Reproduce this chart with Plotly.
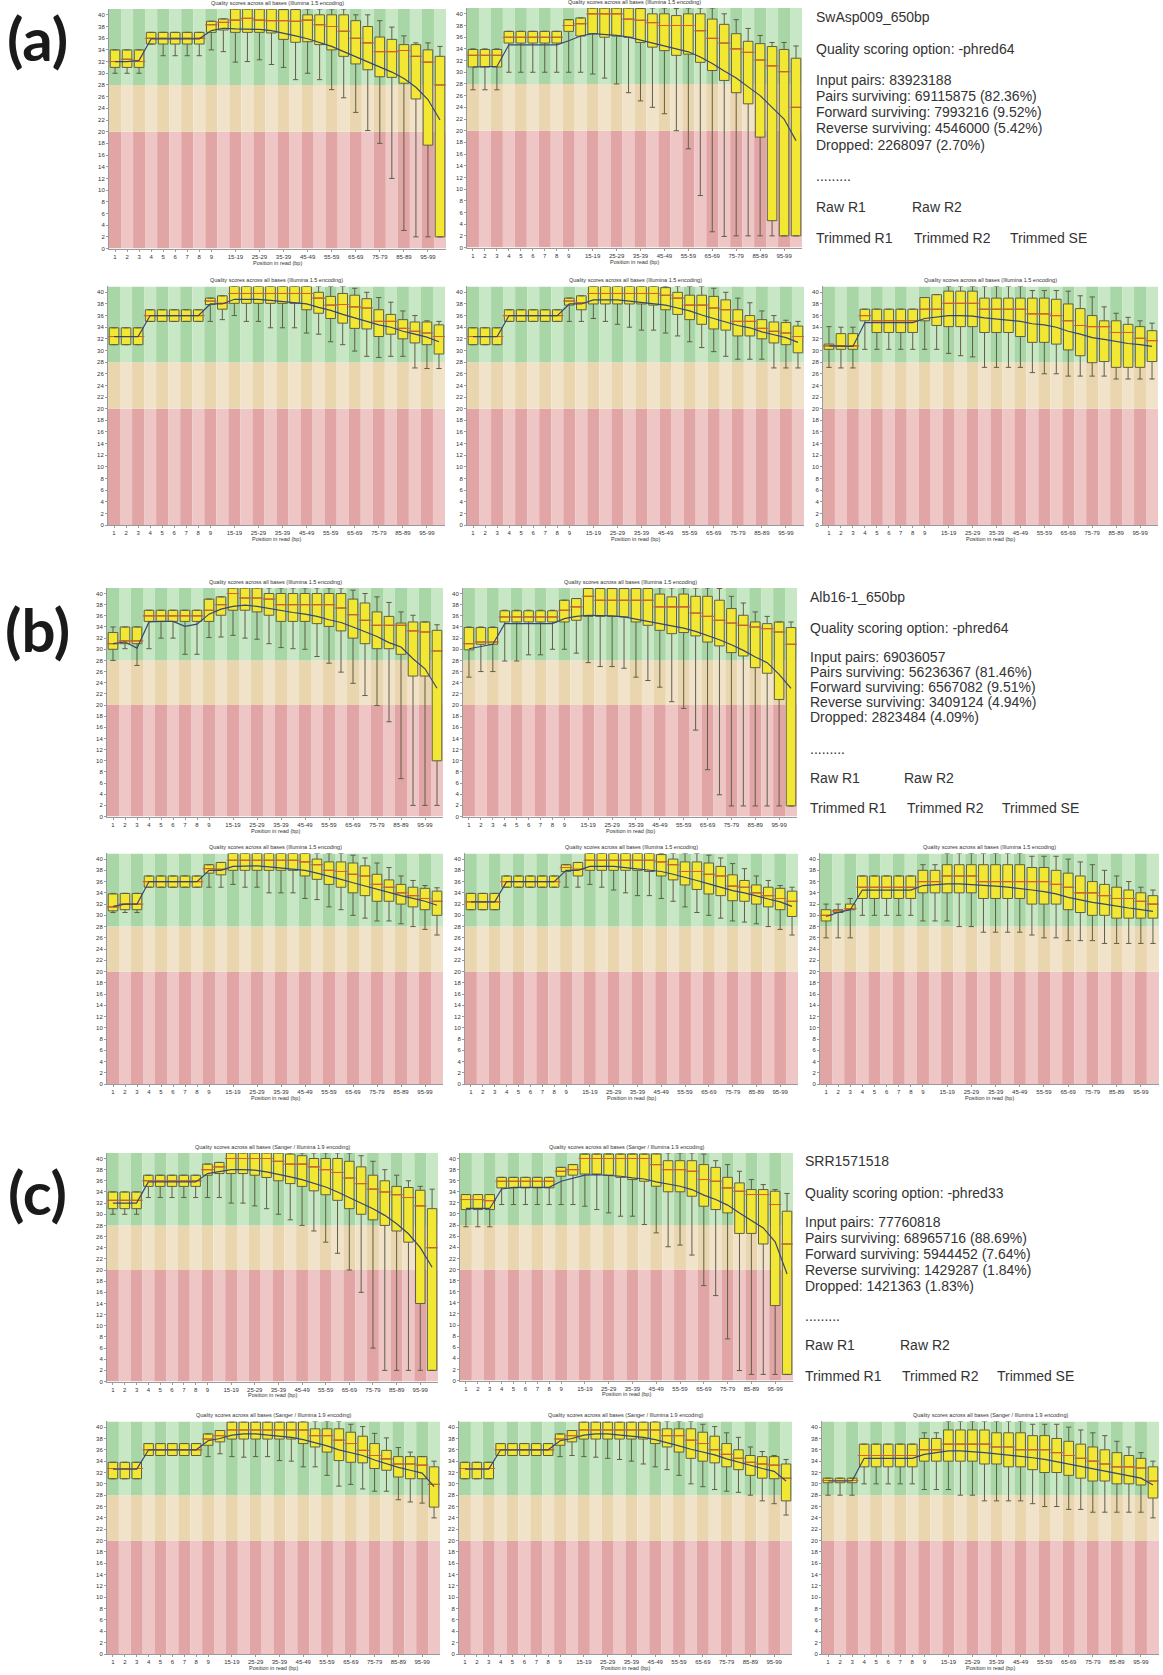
import plotly.graph_objects as go

W, H = 1163, 1675

CATEGORIES = ["1", "2", "3", "4", "5", "6", "7", "8", "9", "10-14", "15-19", "20-24", "25-29",
              "30-34", "35-39", "40-44", "45-49", "50-54", "55-59", "60-64", "65-69", "70-74",
              "75-79", "80-84", "85-89", "90-94", "95-99", "100-101"]
TICK_TEXT = ["1", "2", "3", "4", "5", "6", "7", "8", "9", "15-19", "25-29", "35-39", "45-49",
             "55-59", "65-69", "75-79", "85-89", "95-99"]
Y_TICKS = list(range(0, 41, 2))
BAND_EDGES = [0, 20, 28, 41]

TITLE_15 = "Quality scores across all bases (Illumina 1.5 encoding)"
TITLE_19 = "Quality scores across all bases (Sanger / Illumina 1.9 encoding)"
X_TITLE = "Position in read (bp)"

# ---------------- (a) ----------------
A1_LO = [30, 30, 30, 35, 33, 33, 33, 33, 34, 33.7, 31.9, 32, 32.3, 31.5, 31, 28.9, 30, 28.9, 27.2, 25.8, 23.3, 20.2, 18, 12, 3.1, 2, 2, 2]
A1_Q1 = [31, 31, 31, 35, 35, 35, 35, 35, 37, 37.4, 37, 37, 37, 36.9, 35.8, 35.3, 35.4, 34.9, 34, 32.9, 31.6, 30.6, 29.4, 29.3, 28.3, 25.6, 17.7, 2]
A1_MED = [32, 32.4, 32, 36, 36, 36, 36, 36, 38.3, 38.7, 39.1, 39.4, 39.1, 39, 39, 38.9, 39.1, 38.3, 38, 37.2, 36, 35.2, 33.7, 33.7, 33.9, 32.9, 31.9, 28]
A1_Q3 = [34, 34, 34, 37, 37, 37, 37, 37, 38.9, 39.3, 41, 41, 41, 41, 40.9, 40.9, 40, 40, 40, 40, 39, 38, 36.2, 35.8, 34.9, 34.9, 34, 32.9]
A1_HI = [34, 34, 34, 37, 37, 37, 37, 37, 38.9, 39.3, 41, 41, 41, 41, 40.9, 41, 41, 41, 41, 41, 40, 40, 39, 37.9, 36.4, 35.2, 35.2, 34.6]
A1_MEAN = [32, 32, 32.2, 35.9, 35.9, 35.9, 35.9, 35.9, 37.3, 37.7, 37.6, 37.6, 37.5, 37.3, 36.9, 36.4, 35.9, 35.3, 34.6, 33.7, 32.8, 31.9, 31, 30.2, 29.1, 27.6, 25.5, 22]

A2_LO = [27, 27, 27, 30, 30, 30, 30, 30, 30, 30, 29.7, 29, 28, 26.5, 25.1, 24, 22.9, 20, 16.9, 8.9, 2.7, 1.9, 2, 2, 2, 2, 2, 2]
A2_Q1 = [30.9, 30.9, 30.9, 35, 35, 35, 35, 35, 37, 36.2, 36.6, 36, 36.2, 36, 35.1, 34.3, 33.7, 32.9, 33.1, 31.7, 30.3, 28.6, 26.5, 24.6, 18.9, 4.6, 2, 2]
A2_MED = [32.9, 32.9, 32.9, 36, 36, 36, 36, 36, 38, 38.3, 40, 40, 40, 39.1, 38.9, 38.5, 38, 38, 38, 37.1, 35.8, 35, 34, 33.4, 32.1, 31.1, 30.1, 24]
A2_Q3 = [33.9, 33.9, 33.9, 37, 37, 37, 37, 37, 39, 39.3, 41, 41, 41, 41, 40.9, 40, 40, 39.7, 40, 40, 39.1, 38.2, 36.6, 35.3, 34.9, 34.4, 33.9, 32.4]
A2_HI = [34, 34, 34, 37, 37, 37, 37, 37, 39, 39.3, 41, 41, 41, 41, 41, 41, 41, 40.9, 41, 41, 41, 40, 39, 37.5, 36.3, 35.1, 35.1, 34.5]
A2_MEAN = [30.9, 30.9, 31, 34.7, 34.7, 34.7, 34.7, 34.7, 35.4, 36.2, 36.6, 36.5, 36.3, 36, 35.5, 35, 34.5, 34, 33.5, 32.6, 31.5, 30.2, 29, 27.5, 26, 24, 22, 18.3]

A3_LO = [31, 31, 31, 35, 35, 35, 35, 35, 35, 35.3, 36, 35, 35, 33.9, 33.9, 33.9, 33, 32.8, 31.5, 31, 29.9, 29, 28.8, 29, 29, 27, 26.9, 26.9]
A3_Q1 = [31, 31, 31, 35, 35, 35, 35, 35, 37.9, 37.1, 38.1, 38.1, 38.1, 38.1, 38.1, 38.1, 37, 36.4, 35.5, 34.7, 33.8, 33.7, 32.4, 32.8, 32, 31.3, 31, 29.4]
A3_MED = [32.4, 32.4, 32.4, 36, 36, 36, 36, 36, 38.5, 38.1, 39.8, 39.8, 39.8, 39.8, 39.8, 39.8, 39.8, 39, 37.8, 37.9, 37.5, 37.3, 35, 35, 33.8, 33.3, 33, 32.4]
A3_Q3 = [33.9, 33.9, 33.9, 37, 37, 37, 37, 37, 39, 39.4, 41, 41, 41, 41, 41, 41, 41, 40, 39.3, 39.8, 39.5, 38.9, 37, 36.2, 35.3, 34.9, 34.9, 34.4]
A3_HI = [33.9, 33.9, 33.9, 37, 37, 37, 37, 37, 39, 39.4, 41, 41, 41, 41, 41, 41, 41, 41, 41, 41, 40.7, 40, 39.1, 38.3, 36.8, 36, 35.1, 35]
A3_MEAN = [32.4, 32.4, 32.4, 36, 36, 36, 36, 36, 38, 38, 38.8, 38.8, 38.8, 38.6, 38.4, 38.3, 38, 37.4, 36.9, 36.2, 35.6, 35, 34.4, 34, 33.3, 32.8, 32.3, 31.5]

A4_LO = [31, 31, 31, 35, 35, 35, 35, 35, 35, 35, 35.5, 35, 34.5, 34, 33.5, 33.5, 33, 32.5, 31.5, 30.5, 29.8, 29, 28.5, 28.5, 28.5, 27, 27, 27]
A4_Q1 = [31, 31, 31, 35, 35, 35, 35, 35, 37.8, 37, 38, 38, 38, 38, 38, 37.8, 37, 36.2, 35.3, 34.5, 33.7, 33.5, 32.5, 32.5, 32, 31.3, 31, 29.6]
A4_MED = [32.4, 32.4, 32.4, 36, 36, 36, 36, 36, 38.5, 38.2, 39.8, 39.8, 39.8, 39.8, 39.8, 39.8, 39.5, 39, 37.8, 37.8, 37.3, 37, 35, 35, 33.8, 33.3, 33, 32.4]
A4_Q3 = [33.9, 33.9, 33.9, 37, 37, 37, 37, 37, 39, 39.4, 41, 41, 41, 41, 41, 41, 40.8, 40, 39.5, 39.5, 39.3, 38.7, 37, 36, 35.3, 34.9, 34.8, 34.2]
A4_HI = [33.9, 33.9, 33.9, 37, 37, 37, 37, 37, 39, 39.4, 41, 41, 41, 41, 41, 41, 41, 41, 41, 41, 40.7, 40, 39, 38.2, 36.8, 36, 35.2, 35]
A4_MEAN = [32.4, 32.4, 32.4, 36, 36, 36, 36, 36, 38, 38, 38.7, 38.7, 38.7, 38.5, 38.3, 38.1, 37.8, 37.3, 36.8, 36.1, 35.5, 34.9, 34.3, 33.9, 33.2, 32.7, 32.2, 31.4]

A5_LO = [27.1, 27, 27, 30.2, 30.2, 30.2, 30.2, 30.2, 30.2, 30.2, 29.5, 29.1, 28.9, 27.1, 27.1, 27.1, 27.1, 26.2, 26, 26, 25.6, 25.6, 25.6, 25.6, 25.1, 25.1, 25.1, 25.1]
A5_Q1 = [30.2, 30.2, 30.2, 35.1, 33.1, 33.1, 33.1, 33.1, 35.1, 34.3, 34.1, 34.1, 34.1, 33.1, 33.1, 33.1, 32.4, 31.4, 31.4, 31.1, 30.1, 29.1, 27.9, 28.1, 27.1, 27.1, 27.1, 28.1]
A5_MED = [30.8, 30.8, 30.8, 36, 35.1, 35.1, 35.1, 35.1, 37.1, 37.1, 38.1, 38.1, 38.1, 37.1, 37.1, 37.1, 37.1, 36.3, 36.3, 36, 35.1, 34.3, 34.1, 34.1, 33.1, 33.1, 32.1, 31.7]
A5_Q3 = [31.1, 32.9, 32.9, 37.1, 37.1, 37.1, 37.1, 37.1, 39.1, 39.6, 40.2, 40.2, 40.2, 39, 39, 39, 39, 39, 39, 38.8, 38, 37.2, 36, 35.1, 35.1, 34.5, 34.1, 33.4]
A5_HI = [34.1, 34, 34, 37.1, 37.1, 37.1, 37.1, 37.1, 39.1, 39.6, 41, 41, 41, 41, 41, 41, 41, 40.3, 40.3, 40.3, 40.2, 39.4, 39.2, 37.5, 36.4, 35.7, 35.1, 34.7]
A5_MEAN = [30.8, 30.7, 30.7, 34.8, 34.8, 34.8, 34.8, 34.8, 35.5, 35.8, 36, 36, 35.9, 35.6, 35.4, 35.2, 35, 34.6, 34.4, 34, 33.3, 32.8, 32.2, 31.9, 31.5, 31.2, 31, 30.7]

# ---------------- (b) ----------------
B1_LO = [28, 30.1, 27.1, 30.1, 32, 32, 29.1, 29.1, 32.1, 32.2, 32.5, 32, 31.8, 31, 30.3, 30.1, 30, 28.7, 27.5, 25.9, 23.9, 21.7, 19.9, 17, 6.8, 2, 2, 2]
B1_Q1 = [30, 31, 31, 35, 35, 35, 35, 35, 35, 36.1, 37, 37, 36.7, 36.1, 35, 35, 35, 34.6, 34.1, 33.3, 32, 31, 30.1, 30.1, 29.1, 25.2, 25.2, 10]
B1_MED = [31, 31.5, 31.5, 36, 36, 36, 36, 36, 37, 38, 40, 39.2, 39.2, 39, 38, 38, 38, 38, 38, 37.4, 36.2, 35.2, 34.3, 34.3, 34.3, 33.3, 33.1, 29.7]
B1_Q3 = [33, 34, 34, 37, 37, 37, 37, 37, 39, 39.4, 41, 41, 41, 40, 40, 40, 40, 40, 40, 40, 39, 38.3, 36.7, 35.9, 34.7, 34.9, 34.9, 33.4]
B1_HI = [34, 34, 34, 37, 37, 37, 37, 37, 39, 39.4, 41, 41, 41, 41, 41, 41, 41, 41, 41, 41, 40.6, 40, 39.4, 38.4, 36.7, 36.1, 34.9, 34.4]
B1_MEAN = [31, 31.3, 30.2, 34.9, 35, 35, 34.1, 34.5, 36.3, 37.2, 37.7, 37.9, 37.7, 37.3, 36.9, 36.6, 36.3, 35.9, 35.3, 34.8, 34, 33.2, 32.3, 31.2, 30.4, 28.3, 26.5, 23]

B2_LO = [25, 26, 26, 27.9, 27.9, 29, 29, 30, 30, 29.3, 27.6, 26.9, 26.9, 26.6, 25, 24.4, 23.2, 20.6, 19.4, 15.5, 8.4, 3.9, 1.9, 1.9, 1.9, 1.9, 1.9, 1.9]
B2_Q1 = [29.9, 30.9, 30.9, 34.9, 34.9, 34.9, 34.9, 34.9, 34.9, 35.2, 35.9, 35.9, 35.9, 35.8, 34.9, 34.3, 33.4, 32.8, 33, 32.4, 31.3, 30.6, 29.4, 28.8, 26.7, 25.7, 21, 1.9]
B2_MED = [31, 31.3, 31.3, 35.8, 35.8, 35.8, 35.8, 35.8, 37, 37.6, 39.5, 38.8, 38.8, 38.8, 38.8, 38.8, 37.6, 37.6, 37.6, 36.5, 35.9, 35.2, 34.7, 34.3, 34, 33.7, 33.1, 30.9]
B2_Q3 = [33.9, 33.9, 33.9, 36.9, 36.9, 36.9, 36.9, 36.9, 38.8, 39.1, 40.9, 40.9, 40.9, 40.9, 40.9, 40.9, 39.9, 39.4, 39.9, 39.5, 39.5, 38.8, 37.3, 36.1, 34.9, 34.6, 34.9, 33.9]
B2_HI = [34, 34, 34, 37, 37, 37, 37, 37, 38.8, 39.1, 40.9, 40.9, 40.9, 40.9, 40.9, 40.9, 41, 41, 41, 41, 41, 40.9, 39.5, 38.3, 36.7, 35.9, 34.9, 34.9]
B2_MEAN = [30.1, 30.5, 30.9, 34.6, 34.6, 34.6, 34.6, 34.6, 35.5, 35.9, 36.1, 36.1, 36, 35.8, 35.4, 35, 34.5, 34.1, 33.8, 33.2, 32.5, 31.7, 30.8, 29.8, 28.6, 27.6, 25.5, 23]

B3_LO = [30.5, 30.5, 30.5, 35, 35, 35, 35, 35, 35, 35, 35.5, 35, 35, 34, 34, 34, 33, 32.8, 31.5, 31, 30, 29.5, 29, 29, 28.5, 28, 27.5, 26.5]
B3_Q1 = [30.8, 31, 31, 35, 35, 35, 35, 35, 37.5, 37.2, 38, 38, 38, 38, 38, 38, 37, 36.4, 35.5, 35, 34, 33.5, 32.5, 32.5, 32, 31.5, 31, 30]
B3_MED = [31.5, 32, 32, 36, 36, 36, 36, 36, 38.3, 38.2, 39.8, 39.8, 39.8, 39.8, 39.8, 39.8, 39.5, 39, 38, 37.8, 37.3, 37, 35.5, 35, 34, 33.5, 33, 32.5]
B3_Q3 = [33.8, 33.9, 33.9, 37, 37, 37, 37, 37, 39, 39.4, 41, 41, 41, 41, 41, 41, 41, 40, 39.5, 39.5, 39.3, 38.8, 37.3, 36.3, 35.5, 35, 34.8, 34.3]
B3_HI = [33.9, 33.9, 33.9, 37, 37, 37, 37, 37, 39, 39.4, 41, 41, 41, 41, 41, 41, 41, 41, 41, 41, 40.7, 40.2, 39.3, 38.5, 37, 36.2, 35.3, 34.9]
B3_MEAN = [31.6, 32, 32, 36, 36, 36, 36, 36, 38, 38, 38.7, 38.8, 38.8, 38.6, 38.4, 38.3, 38, 37.5, 37, 36.4, 35.8, 35.2, 34.6, 34.1, 33.5, 33, 32.5, 31.8]

B4_LO = [31, 31, 31, 35, 35, 35, 35, 35, 35, 35, 35.5, 35, 34.5, 34, 33.5, 33.5, 33, 32.5, 31.5, 30.5, 30, 29.5, 29, 28.8, 28.5, 28, 27.5, 26.5]
B4_Q1 = [31, 31, 31, 35, 35, 35, 35, 35, 37.8, 37, 38, 38, 38, 38, 38, 37.8, 37, 36.3, 35.4, 34.6, 33.8, 33.5, 32.6, 32.5, 32, 31.5, 31, 29.8]
B4_MED = [32.4, 32.4, 32.4, 36, 36, 36, 36, 36, 38.5, 38.2, 39.8, 39.8, 39.8, 39.8, 39.8, 39.8, 39.5, 39, 37.8, 37.8, 37.3, 37, 35.2, 35, 34, 33.5, 33, 32.5]
B4_Q3 = [33.9, 33.9, 33.9, 37, 37, 37, 37, 37, 39, 39.4, 41, 41, 41, 41, 41, 41, 40.8, 40, 39.5, 39.5, 39.3, 38.7, 37.2, 36.2, 35.4, 35, 34.8, 34.3]
B4_HI = [33.9, 33.9, 33.9, 37, 37, 37, 37, 37, 39, 39.4, 41, 41, 41, 41, 41, 41, 41, 41, 41, 41, 40.7, 40.2, 39.2, 38.3, 37, 36.2, 35.3, 35]
B4_MEAN = [32.4, 32.4, 32.4, 36, 36, 36, 36, 36, 38, 38, 38.7, 38.7, 38.7, 38.5, 38.3, 38.1, 37.8, 37.3, 36.8, 36.2, 35.6, 35, 34.4, 34, 33.4, 32.9, 32.4, 31.6]

B5_LO = [26, 26, 26, 30, 30, 30, 30, 30, 29, 29, 29, 28, 28, 27, 27, 27, 27, 26.5, 26, 26, 25.5, 25.5, 25.5, 25, 25, 25, 25, 25]
B5_Q1 = [29, 30.5, 31, 33, 33, 33, 33, 33, 34, 34, 34, 34, 34, 33, 33, 33, 33, 32, 32, 32, 31, 30.5, 30, 30, 29.5, 29.5, 29.5, 29.5]
B5_MED = [30, 30.8, 31.2, 35, 35, 35, 35, 35, 36, 36, 37, 37, 37, 36, 36, 36, 36, 36, 36, 35.5, 35, 34, 34, 33.5, 33, 33, 32.5, 32]
B5_Q3 = [31, 31, 32, 37, 37, 37, 37, 37, 38, 38, 39, 39, 39, 39, 39, 39, 39, 38.5, 38.5, 38, 37.5, 37, 36, 35.5, 35, 34.5, 34, 33.5]
B5_HI = [32, 32, 33, 37, 37, 37, 37, 37, 39, 39, 41, 41, 41, 41, 41, 41, 41, 40.5, 40.5, 40.5, 40, 39.5, 39, 38, 37, 36, 35, 34.5]
B5_MEAN = [29.8, 30.5, 31, 34.5, 34.5, 34.5, 34.5, 34.5, 35.3, 35.5, 35.6, 35.6, 35.5, 35.3, 35.2, 35, 34.8, 34.5, 34.2, 33.8, 33.2, 32.7, 32.3, 32, 31.6, 31.3, 31, 30.7]

# ---------------- (c) ----------------
C1_LO = [30, 30, 30, 33, 33, 33, 33, 33, 33, 33, 32, 32, 31.5, 31, 30, 29, 28, 27, 25, 23, 20, 16, 6, 2, 2, 2, 2, 2]
C1_Q1 = [31, 31, 31, 35, 35, 35, 35, 35, 37, 37.3, 37.3, 37.3, 37, 36.6, 36, 35.5, 35, 34.2, 33.5, 32.5, 31, 30, 29, 28, 27, 25, 14, 2]
C1_MED = [32.5, 32.5, 32.5, 36, 36, 36, 36, 36, 38, 38.5, 40, 40, 40, 40, 39.5, 39, 39, 38.5, 38, 37.5, 36.5, 35.5, 34.5, 34, 33.5, 33, 31.5, 24]
C1_Q3 = [34, 34, 34, 37, 37, 37, 37, 37, 39, 39.3, 41, 41, 41, 41, 41, 40.8, 40.5, 40, 40, 40, 39.5, 38.5, 37, 36, 35, 34.8, 34.3, 31]
C1_HI = [34, 34, 34, 37, 37, 37, 37, 37, 39, 39.3, 41, 41, 41, 41, 41, 41, 41, 41, 41, 41, 41, 40.5, 39.5, 38, 37, 36, 35, 34.5]
C1_MEAN = [32, 32, 32, 35.8, 35.8, 35.8, 35.8, 35.8, 37.3, 37.7, 38, 38, 37.9, 37.6, 37.2, 36.7, 36.2, 35.6, 34.9, 34, 33, 32, 31, 29.8, 28.3, 26.5, 24, 20.5]

C2_LO = [27.7, 27.7, 27.7, 31.7, 31.7, 31.7, 31.7, 31.7, 31.7, 31.7, 31.4, 30.8, 30.2, 29.6, 29.6, 28.1, 26.6, 24.1, 24.4, 22.6, 17.1, 15.3, 7.5, 1.8, 1.1, 1.1, 1.1, 1.1]
C2_Q1 = [30.8, 30.8, 30.8, 34.7, 34.7, 34.7, 34.7, 34.7, 36.8, 37, 37.2, 37.2, 37, 36.6, 36.2, 35.9, 35, 34, 34, 33.2, 31.4, 30.8, 30.2, 26.5, 26.5, 24.6, 13.5, 1.1]
C2_MED = [32.6, 32.6, 32.4, 35.9, 35.9, 35.9, 35.9, 35.9, 37.7, 38, 40, 40, 40, 40, 40, 40, 38.9, 38, 38, 37.7, 36.2, 35.9, 34.7, 34.1, 33.5, 33.5, 31.7, 24.6]
C2_Q3 = [33.5, 33.5, 33.5, 36.6, 36.6, 36.6, 36.6, 36.6, 38.4, 38.9, 40.8, 40.8, 40.8, 40.8, 40.8, 40.8, 40.8, 39.6, 39.6, 39.6, 38.9, 38.4, 36.6, 35.6, 34.4, 34.4, 34.1, 30.5]
C2_HI = [33.5, 33.5, 33.5, 36.6, 36.6, 36.6, 36.6, 36.6, 38.4, 38.9, 40.8, 40.8, 40.8, 40.8, 40.8, 40.8, 41, 41, 41, 41, 40.8, 39.6, 38.9, 37.7, 36.2, 35.3, 34.4, 33.7]
C2_MEAN = [31, 31, 31, 34.5, 34.8, 34.8, 34.8, 34.8, 35.9, 36.4, 37, 37.1, 37, 36.8, 36.5, 36.3, 35.8, 35.4, 35, 34.4, 33.4, 32.6, 31.6, 30.2, 28.9, 27.5, 25, 19.2]

C3_LO = [30.9, 30.9, 30.9, 35, 35, 35, 35, 35, 34.8, 35.3, 34.8, 34.7, 34.8, 34.8, 34.1, 34, 33, 33, 31.5, 29.6, 29.9, 29.1, 28.7, 28.7, 27.2, 26.8, 26.6, 24]
C3_Q1 = [30.9, 30.9, 30.9, 35, 35, 35, 35, 35, 36.8, 37.4, 37.9, 37.9, 37.9, 37.9, 37.9, 37.9, 37.1, 36.5, 35.6, 34.1, 33.8, 33.7, 32.7, 32.4, 31.2, 30.9, 30.9, 25.9]
C3_MED = [32.7, 32.7, 32.7, 36, 36, 36, 36, 36, 37.9, 38.5, 39.5, 39.5, 39.5, 39.5, 39.5, 39.5, 39.5, 38.5, 38.5, 37.7, 37.1, 35.9, 35, 34.4, 33.5, 33.5, 33.3, 29.9]
C3_Q3 = [33.8, 33.8, 33.8, 37.1, 37.1, 37.1, 37.1, 37.1, 38.8, 39.4, 40.9, 40.9, 40.9, 40.9, 40.9, 40.9, 40.9, 39.7, 39.7, 39.7, 39.1, 38.4, 37.1, 35.9, 34.8, 34.8, 34.8, 33]
C3_HI = [33.8, 33.8, 33.8, 37.1, 37.1, 37.1, 37.1, 37.1, 38.8, 39.4, 40.9, 40.9, 40.9, 40.9, 40.9, 40.9, 41, 41, 41, 41, 40.5, 40.1, 38.9, 38.1, 36.4, 35.6, 34.8, 34]
C3_MEAN = [32.6, 32.6, 32.6, 36, 36, 36, 36, 36, 37.6, 38, 38.6, 38.8, 38.8, 38.6, 38.4, 38.2, 37.8, 37.3, 36.7, 36, 35.5, 35, 34.2, 33.5, 32.9, 32.4, 31.9, 29.5]

C4_LO = [30.9, 30.9, 30.9, 35, 35, 35, 35, 35, 34.8, 35, 34.8, 34.7, 34.5, 34.3, 34, 33.5, 33, 32.5, 31.5, 30, 29.5, 29, 28.7, 28.5, 28, 27, 26.5, 24.5]
C4_Q1 = [30.9, 30.9, 30.9, 35, 35, 35, 35, 35, 36.8, 37.4, 37.9, 37.9, 37.9, 37.9, 37.9, 37.9, 37.1, 36.5, 35.6, 34.5, 34, 33.7, 33, 32.5, 31.5, 31, 30.9, 27]
C4_MED = [32.7, 32.7, 32.7, 36, 36, 36, 36, 36, 37.9, 38.5, 39.5, 39.5, 39.5, 39.5, 39.5, 39.5, 39.5, 38.5, 38.5, 37.7, 37.1, 36, 35.2, 34.5, 33.8, 33.5, 33.3, 31]
C4_Q3 = [33.8, 33.8, 33.8, 37.1, 37.1, 37.1, 37.1, 37.1, 38.8, 39.4, 40.9, 40.9, 40.9, 40.9, 40.9, 40.9, 40.9, 39.7, 39.7, 39.7, 39.1, 38.4, 37.1, 36, 35, 34.8, 34.8, 33.5]
C4_HI = [33.8, 33.8, 33.8, 37.1, 37.1, 37.1, 37.1, 37.1, 38.8, 39.4, 40.9, 40.9, 40.9, 40.9, 40.9, 40.9, 41, 41, 41, 41, 40.5, 40.1, 39, 38.2, 36.5, 35.7, 35, 34.3]
C4_MEAN = [32.6, 32.6, 32.6, 36, 36, 36, 36, 36, 37.6, 38, 38.6, 38.8, 38.8, 38.6, 38.4, 38.2, 37.8, 37.3, 36.7, 36.1, 35.6, 35.1, 34.4, 33.8, 33.2, 32.7, 32.2, 30.5]

C5_LO = [28, 28, 28, 30, 30, 30, 30, 30, 29, 29, 29, 28, 28, 27, 27, 27, 27, 26.5, 26, 26, 25.5, 25.5, 25, 25, 25, 25, 25, 24]
C5_Q1 = [30.2, 30.2, 30.2, 33, 33, 33, 33, 33, 34, 34, 34, 34, 34, 33.5, 33.5, 33, 33, 32.5, 32, 32, 31.5, 31, 30.5, 30.5, 30, 30, 29.8, 27.5]
C5_MED = [30.6, 30.6, 30.6, 35, 35, 35, 35, 35, 36, 36, 37, 37, 37, 37, 36.5, 36.5, 36, 36, 36, 35.5, 35, 34.5, 34, 33.5, 33, 33, 32.8, 30.5]
C5_Q3 = [31, 31, 31, 37, 37, 37, 37, 37, 38, 38, 39.5, 39.5, 39.5, 39.5, 39, 39, 39, 38.5, 38.5, 38, 37.5, 37, 36.5, 36, 35.5, 35, 34.5, 33]
C5_HI = [31, 31, 31, 37, 37, 37, 37, 37, 39, 39, 41, 41, 41, 41, 41, 41, 41, 40.5, 40.5, 40.5, 40, 39.5, 39, 38.5, 37.5, 36.5, 35.5, 34]
C5_MEAN = [30.5, 30.5, 30.5, 34.5, 34.5, 34.5, 34.5, 34.5, 35.2, 35.5, 35.8, 35.8, 35.7, 35.5, 35.3, 35.1, 34.9, 34.6, 34.3, 33.9, 33.4, 33, 32.6, 32.2, 31.8, 31.4, 31, 29.8]

# ---------------- text blocks ----------------
TEXT_A = ["SwAsp009_650bp", "Quality scoring option: -phred64", "Input pairs: 83923188",
          "Pairs surviving: 69115875 (82.36%)", "Forward surviving: 7993216 (9.52%)",
          "Reverse surviving: 4546000 (5.42%)", "Dropped: 2268097 (2.70%)"]
TEXT_B = ["Alb16-1_650bp", "Quality scoring option: -phred64", "Input pairs: 69036057",
          "Pairs surviving: 56236367 (81.46%)", "Forward surviving: 6567082 (9.51%)",
          "Reverse surviving: 3409124 (4.94%)", "Dropped: 2823484 (4.09%)"]
TEXT_C = ["SRR1571518", "Quality scoring option: -phred33", "Input pairs: 77760818",
          "Pairs surviving: 68965716 (88.69%)", "Forward surviving: 5944452 (7.64%)",
          "Reverse surviving: 1429287 (1.84%)", "Dropped: 1421363 (1.83%)"]
SEPARATOR = "........."
LINKS_ROW1 = ["Raw R1", "Raw R2"]
LINKS_ROW2 = ["Trimmed R1", "Trimmed R2", "Trimmed SE"]
PANEL_LABELS = ["(a)", "(b)", "(c)"]

# ---------------- layout geometry (pixels: left, right, top, bottom) ----------------
PLOTS = [
    ((A1_LO, A1_Q1, A1_MED, A1_Q3, A1_HI, A1_MEAN), (109, 446, 9, 249), TITLE_15),
    ((A2_LO, A2_Q1, A2_MED, A2_Q3, A2_HI, A2_MEAN), (467, 802, 8, 248), TITLE_15),
    ((A3_LO, A3_Q1, A3_MED, A3_Q3, A3_HI, A3_MEAN), (108, 445, 287, 526), TITLE_15),
    ((A4_LO, A4_Q1, A4_MED, A4_Q3, A4_HI, A4_MEAN), (467, 804, 287, 526), TITLE_15),
    ((A5_LO, A5_Q1, A5_MED, A5_Q3, A5_HI, A5_MEAN), (823, 1158, 287, 526), TITLE_15),
    ((B1_LO, B1_Q1, B1_MED, B1_Q3, B1_HI, B1_MEAN), (107, 443, 589, 818), TITLE_15),
    ((B2_LO, B2_Q1, B2_MED, B2_Q3, B2_HI, B2_MEAN), (463, 797, 589, 818), TITLE_15),
    ((B3_LO, B3_Q1, B3_MED, B3_Q3, B3_HI, B3_MEAN), (107, 443, 855, 1086), TITLE_15),
    ((B4_LO, B4_Q1, B4_MED, B4_Q3, B4_HI, B4_MEAN), (465, 798, 855, 1086), TITLE_15),
    ((B5_LO, B5_Q1, B5_MED, B5_Q3, B5_HI, B5_MEAN), (820, 1159, 855, 1086), TITLE_15),
    ((C1_LO, C1_Q1, C1_MED, C1_Q3, C1_HI, C1_MEAN), (107, 438, 1155, 1384), TITLE_19),
    ((C2_LO, C2_Q1, C2_MED, C2_Q3, C2_HI, C2_MEAN), (460, 793, 1155, 1383), TITLE_19),
    ((C3_LO, C3_Q1, C3_MED, C3_Q3, C3_HI, C3_MEAN), (107, 440, 1424, 1657), TITLE_19),
    ((C4_LO, C4_Q1, C4_MED, C4_Q3, C4_HI, C4_MEAN), (459, 792, 1424, 1657), TITLE_19),
    ((C5_LO, C5_Q1, C5_MED, C5_Q3, C5_HI, C5_MEAN), (822, 1159, 1424, 1657), TITLE_19),
]

TEXT_BLOCKS = [
    (TEXT_A, 814, [17, 49, 80, 96, 112, 128, 145], 176, 207, 238, [910], [912, 1008]),
    (TEXT_B, 808, [598, 629, 658, 673, 688, 703, 718], 750, 779, 809, [902], [905, 1000]),
    (TEXT_C, 803, [1163, 1195, 1224, 1240, 1256, 1272, 1288], 1318, 1347, 1378, [898], [900, 995]),
]
PANEL_POS = [(37, 38), (37, 630), (37, 1194)]

STRIPE_COLORS = [("#e2a5a5", "#edc6c5"), ("#e9d5ae", "#f1e3c9"), ("#a8d6a7", "#c8e7c5")]
BOX_FILL = "#f2e833"
BOX_LINE = "#5f5f46"
MEDIAN_COLOR = "#d9602e"
MEAN_COLOR = "#3b4670"
TEXT_COLOR = "#333333"
SMALL = 6


def px_x(v):
    return v / W


def px_y(v):
    return 1 - v / H


fig = go.Figure()
layout = {}
annotations = []

for k, (stats, (l, r, t, b), title) in enumerate(PLOTS, start=1):
    lo, q1, med, q3, hi, mean = stats
    xa = "x" if k == 1 else f"x{k}"
    ya = "y" if k == 1 else f"y{k}"
    n = len(CATEGORIES)
    for bi in range(3):
        dark, light = STRIPE_COLORS[bi]
        fig.add_trace(go.Bar(
            x=CATEGORIES, y=[BAND_EDGES[bi + 1] - BAND_EDGES[bi]] * n, base=BAND_EDGES[bi],
            width=1.0, marker=dict(color=[dark if i % 2 == 0 else light for i in range(n)], line=dict(width=0)),
            xaxis=xa, yaxis=ya, showlegend=False, hoverinfo="skip"))
    fig.add_trace(go.Box(
        x=CATEGORIES, q1=q1, median=med, q3=q3, lowerfence=lo, upperfence=hi,
        fillcolor=BOX_FILL, line=dict(color=BOX_LINE, width=1), width=0.8, whiskerwidth=0.55,
        boxpoints=False, xaxis=xa, yaxis=ya, showlegend=False, hoverinfo="skip"))
    fig.add_trace(go.Scatter(
        x=CATEGORIES, y=med, mode="markers",
        marker=dict(symbol="line-ew", size=9, line=dict(color=MEDIAN_COLOR, width=1.1)),
        xaxis=xa, yaxis=ya, showlegend=False, hoverinfo="skip"))
    fig.add_trace(go.Scatter(
        x=CATEGORIES, y=mean, mode="lines", line=dict(color=MEAN_COLOR, width=1.2),
        xaxis=xa, yaxis=ya, showlegend=False, hoverinfo="skip"))

    xname = "xaxis" if k == 1 else f"xaxis{k}"
    yname = "yaxis" if k == 1 else f"yaxis{k}"
    layout[xname] = dict(
        domain=[px_x(l), px_x(r)], anchor=ya, type="category", categoryorder="array",
        categoryarray=CATEGORIES, range=[-0.5, len(CATEGORIES) - 0.5],
        tickmode="array", tickvals=TICK_TEXT, ticktext=TICK_TEXT,
        tickfont=dict(size=SMALL, color=TEXT_COLOR, family="Liberation Sans"),
        showgrid=False, zeroline=False, showline=True, linecolor="#9a9a9a", linewidth=1,
        ticks="outside", ticklen=2, tickcolor="#9a9a9a", fixedrange=True)
    layout[yname] = dict(
        domain=[px_y(b), px_y(t)], anchor=xa, range=[0, 41],
        tickmode="array", tickvals=Y_TICKS, ticktext=[str(v) for v in Y_TICKS],
        tickfont=dict(size=SMALL, color=TEXT_COLOR, family="Liberation Sans"),
        showgrid=False, zeroline=False, showline=True, linecolor="#9a9a9a", linewidth=1,
        ticks="outside", ticklen=2, tickcolor="#9a9a9a", fixedrange=True)
    annotations.append(dict(
        x=px_x((l + r) / 2), y=px_y(t - 6), xref="paper", yref="paper", text=title,
        showarrow=False, xanchor="center", yanchor="middle",
        font=dict(size=5.5, color=TEXT_COLOR, family="Liberation Sans")))
    annotations.append(dict(
        x=px_x((l + r) / 2), y=px_y(b + 14), xref="paper", yref="paper", text=X_TITLE,
        showarrow=False, xanchor="center", yanchor="middle",
        font=dict(size=5.5, color=TEXT_COLOR, family="Liberation Sans")))

TXT_FONT = dict(size=14, color=TEXT_COLOR, family="Liberation Sans")
for lines, x0, ys, ydots, yraw, ytrim, xraw, xtrim in TEXT_BLOCKS:
    for line, yy in zip(lines, ys):
        annotations.append(dict(x=px_x(x0), y=px_y(yy), xref="paper", yref="paper", text=line,
                                showarrow=False, xanchor="left", yanchor="middle", font=TXT_FONT))
    annotations.append(dict(x=px_x(x0), y=px_y(ydots), xref="paper", yref="paper", text=SEPARATOR,
                            showarrow=False, xanchor="left", yanchor="middle", font=TXT_FONT))
    for txt, xx in zip(LINKS_ROW1, [x0] + xraw):
        annotations.append(dict(x=px_x(xx), y=px_y(yraw), xref="paper", yref="paper", text=txt,
                                showarrow=False, xanchor="left", yanchor="middle", font=TXT_FONT))
    for txt, xx in zip(LINKS_ROW2, [x0] + xtrim):
        annotations.append(dict(x=px_x(xx), y=px_y(ytrim), xref="paper", yref="paper", text=txt,
                                showarrow=False, xanchor="left", yanchor="middle", font=TXT_FONT))

for lab, (cx, cy) in zip(PANEL_LABELS, PANEL_POS):
    annotations.append(dict(x=px_x(cx), y=px_y(cy), xref="paper", yref="paper", text=f"<b>{lab}</b>",
                            showarrow=False, xanchor="center", yanchor="middle",
                            font=dict(size=60, color="#1a1a1a", family="Lato")))

fig.update_layout(
    width=W, height=H, autosize=False, margin=dict(l=0, r=0, t=0, b=0),
    paper_bgcolor="white", plot_bgcolor="white", barmode="overlay", boxmode="overlay",
    showlegend=False, annotations=annotations, **layout)

fig.write_html("out.html")
